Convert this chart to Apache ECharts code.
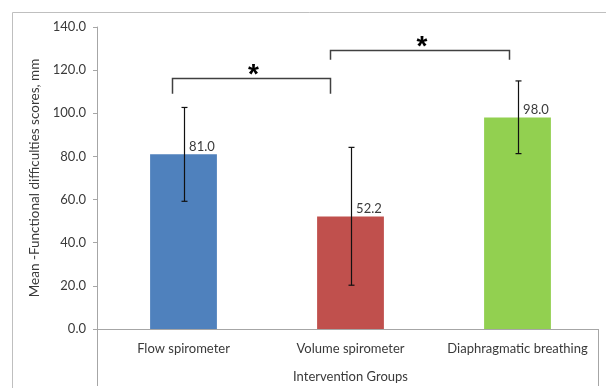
<!DOCTYPE html>
<html><head><meta charset="utf-8">
<script src="https://cdn.jsdelivr.net/npm/echarts@6/dist/echarts.min.js"></script>
<style>html,body{margin:0;padding:0;background:#fff}#c{width:606px;height:388px}</style>
</head><body><div id="c"></div>
<script>
const categories = ['Flow spirometer', 'Volume spirometer', 'Diaphragmatic breathing'];
const means = [81.0, 52.2, 98.0];
const errLow = [59.2, 20.3, 81.3];
const errHigh = [102.7, 84.2, 115.0];
const barColors = ['#4f81bd', '#c0504d', '#92d050'];
const yTicks = [0, 20, 40, 60, 80, 100, 120, 140];
// significance brackets: [fromCategoryPos, toCategoryPos, topValue, legEndValue, label]
const bracketFrom = [-0.07, 0.88];
const bracketTo = [0.88, 1.95];
const bracketTop = [116.2, 129.3];
const bracketLeg = [109.0, 124.8];
const bracketLabel = ['*', '*'];

const G = {left: 100, right: 5, top: 27, bottom: 59};
const AX_X = 97;
const W = 606, H = 388;
const FONT = 'Lato';
const TXT = '#3a3a3a';
const AXC = '#a6a6a6';

const chart = echarts.init(document.getElementById('c'), null, {renderer: 'canvas'});
chart.setOption({
  animation: false,
  backgroundColor: '#fff',
  grid: {left: G.left, right: G.right, top: G.top, bottom: G.bottom, containLabel: false},
  graphic: [
    {type: 'rect', shape: {x: 12.5, y: 12.5, width: 800, height: 600}, style: {fill: 'none', stroke: '#bfbfbf', lineWidth: 1}, z: 0},
    {type: 'line', shape: {x1: AX_X + 0.5, y1: H - G.bottom, x2: AX_X + 0.5, y2: H - 2}, style: {stroke: AXC, lineWidth: 1}},
    {type: 'line', shape: {x1: W - G.right - 2.5, y1: H - G.bottom, x2: W - G.right - 2.5, y2: H - 2}, style: {stroke: AXC, lineWidth: 1}},
    {type: 'line', shape: {x1: AX_X - 4, y1: H - G.bottom + 0.5, x2: G.left + 1, y2: H - G.bottom + 0.5}, style: {stroke: AXC, lineWidth: 1}},
    {type: 'rect', shape: {x: W - G.right - 2, y: H - G.bottom - 1, width: 10, height: 3}, style: {fill: '#fff'}, z: 10}
  ],
  xAxis: {
    type: 'category', data: categories,
    axisLine: {show: true, lineStyle: {color: AXC, width: 1}},
    axisTick: {show: false},
    axisLabel: {color: TXT, fontFamily: FONT, fontSize: 13, margin: 13, interval: 0},
    name: 'Intervention Groups', nameLocation: 'middle', nameGap: 41,
    nameTextStyle: {color: TXT, fontFamily: FONT, fontSize: 13}
  },
  yAxis: {
    type: 'value', min: yTicks[0], max: yTicks[yTicks.length - 1], interval: 20,
    offset: G.left - AX_X,
    axisLine: {show: true, lineStyle: {color: AXC, width: 1}},
    axisTick: {show: true, length: 4, lineStyle: {color: AXC}},
    splitLine: {show: false},
    axisLabel: {color: TXT, fontFamily: FONT, fontSize: 13, margin: 11, formatter: v => v.toFixed(1)},
    name: 'Mean -Functional difficulties scores, mm', nameLocation: 'middle', nameGap: 52,
    nameTextStyle: {color: TXT, fontFamily: FONT, fontSize: 13.5}
  },
  series: [
    {
      type: 'bar', barWidth: '40%',
      data: means.map((v, i) => ({value: v, itemStyle: {color: barColors[i]}})),
      label: {show: true, position: [39, -14], formatter: p => p.value.toFixed(1),
        color: TXT, fontFamily: FONT, fontSize: 13},
      z: 2
    },
    {
      type: 'custom', z: 5,
      data: means.map((v, i) => [i, errLow[i], errHigh[i]]),
      renderItem: (params, api) => {
        const lo = api.coord([api.value(0), api.value(1)]);
        const hi = api.coord([api.value(0), api.value(2)]);
        const x = Math.round(lo[0]) + 0.5, c = 3;
        const st = {stroke: '#111', lineWidth: 1.2};
        return {type: 'group', children: [
          {type: 'line', shape: {x1: x, y1: hi[1], x2: x, y2: lo[1]}, style: st},
          {type: 'line', shape: {x1: x - c, y1: hi[1], x2: x + c, y2: hi[1]}, style: st},
          {type: 'line', shape: {x1: x - c, y1: lo[1], x2: x + c, y2: lo[1]}, style: st}
        ]};
      }
    },
    {
      type: 'custom', z: 5,
      data: bracketFrom.map((f, i) => [f, bracketTo[i], bracketTop[i], bracketLeg[i], i]),
      renderItem: (params, api) => {
        const band = api.size([1, 0])[0];
        const base = api.coord([0, 0])[0];
        const x1 = Math.round(base + api.value(0) * band) + 0.5;
        const x2 = Math.round(base + api.value(1) * band) + 0.5;
        const yT = Math.round(api.coord([0, api.value(2)])[1]) + 0.5;
        const yL = api.coord([0, api.value(3)])[1];
        const st = {stroke: '#404040', lineWidth: 1.5, fill: 'none'};
        return {type: 'group', children: [
          {type: 'polyline', shape: {points: [[x1, yL], [x1, yT], [x2, yT], [x2, yL]]}, style: st},
          {type: 'text', style: {text: bracketLabel[api.value(4)], x: (x1 + x2) / 2 + 2, y: yT + 11,
            align: 'center', verticalAlign: 'bottom', fill: '#000', font: 'bold 28px "Liberation Sans"'}}
        ]};
      }
    }
  ]
});
</script></body></html>
